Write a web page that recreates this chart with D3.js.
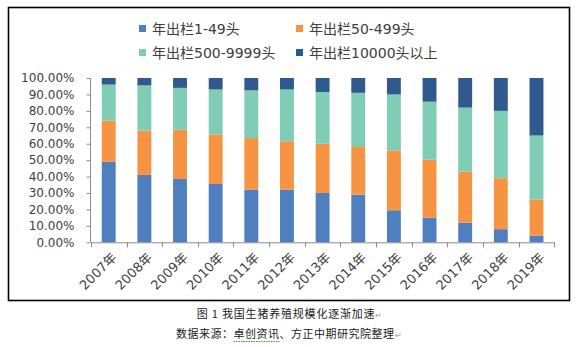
<!DOCTYPE html>
<meta charset="utf-8">
<script src="https://d3js.org/d3.v7.min.js"></script>
<style>
  body { margin: 0; background: #fff; }
</style>
<div id="chart"></div>
<script>
    // categories and values (share of each farm size, %)
    var years = ["2007年", "2008年", "2009年", "2010年", "2011年", "2012年", "2013年",
                 "2014年", "2015年", "2016年", "2017年", "2018年", "2019年"];
    var seriesNames = ["年出栏1-49头", "年出栏50-499头", "年出栏500-9999头", "年出栏10000头以上"];
    var small  = [49, 41, 38.5, 35.5, 32, 32, 30, 29, 19.5, 15, 12, 8, 4];
    var medium = [25, 27, 30, 30.2, 31.5, 29.5, 30, 29, 36.5, 35.3, 31, 31, 22];
    var large  = [22, 27.5, 25.5, 27.3, 29, 31.5, 31.5, 33, 34, 35.3, 39, 41, 39];
    var huge   = [4, 4.5, 6, 7, 7.5, 7, 8.5, 9, 10, 14.4, 18, 20, 35];
    var yTicks = [0, 0.1, 0.2, 0.3, 0.4, 0.5, 0.6, 0.7, 0.8, 0.9, 1];
    var colors = ["#4F7FBE", "#F79443", "#7ECDB4", "#30598D"];

    var W = 576, H = 347;
    var svg = d3.select("#chart").append("svg")
        .attr("width", W).attr("height", H);

    // outer frame
    svg.append("rect")
        .attr("x", 8.5).attr("y", 7.5)
        .attr("width", 561).attr("height", 293)
        .attr("fill", "none").attr("stroke", "#000").attr("stroke-width", 1.6);

    // build table for stacking
    var keys = ["small", "medium", "large", "huge"];
    var table = years.map(function(y, i) {
        return { year: y, small: small[i] / 100, medium: medium[i] / 100,
                 large: large[i] / 100, huge: huge[i] / 100 };
    });
    var stacked = d3.stack().keys(keys)(table);

    var x = d3.scaleBand()
        .domain(years)
        .range([90.9, 554.3])
        .paddingInner(0.61)
        .paddingOuter(0.305);
    var y = d3.scaleLinear().domain([0, 1]).range([242.3, 78]);

    var axisColor = "#8c8c8c";
    var numFont = "'DejaVu Sans', 'Noto Sans CJK SC', sans-serif";

    // bars
    svg.append("g").selectAll("g")
      .data(stacked)
      .enter().append("g")
        .attr("fill", function(d, i) { return colors[i]; })
      .selectAll("rect")
      .data(function(d) { return d; })
      .enter().append("rect")
        .attr("x", function(d) { return x(d.data.year); })
        .attr("width", x.bandwidth())
        .attr("y", function(d) { return y(d[1]); })
        .attr("height", function(d) { return y(d[0]) - y(d[1]); });

    // y axis
    var yAxis = svg.append("g")
        .attr("transform", "translate(90.5,0)")
        .call(d3.axisLeft(y).tickValues(yTicks).tickSize(4).tickPadding(12)
              .tickFormat(d3.format(".2%")));
    yAxis.select(".domain").attr("stroke", axisColor).attr("d", "M0," + y(1) + "V" + y(0));
    yAxis.selectAll(".tick line").attr("stroke", axisColor);
    yAxis.selectAll(".tick text")
        .style("font-family", numFont).style("font-size", "12px").attr("fill", "#404040");

    // x axis line and boundary ticks
    var x0 = x.range()[0], x1 = x.range()[1], step = x.step();
    var xg = svg.append("g");
    xg.append("line")
        .attr("x1", x0).attr("x2", x1).attr("y1", y(0) + 0.5).attr("y2", y(0) + 0.5)
        .attr("stroke", axisColor);
    xg.selectAll(".xt")
      .data(d3.range(years.length + 1))
      .enter().append("line")
        .attr("x1", function(i) { return Math.round(x0 + i * step) + 0.5; })
        .attr("x2", function(i) { return Math.round(x0 + i * step) + 0.5; })
        .attr("y1", y(0)).attr("y2", y(0) + 5)
        .attr("stroke", axisColor);

    // rotated category labels
    xg.selectAll(".xl")
      .data(years)
      .enter().append("text")
        .attr("transform", function(d) {
            return "translate(" + (x(d) + x.bandwidth() / 2 + 2) + "," + (y(0) + 9) + ") rotate(-45)";
        })
        .attr("text-anchor", "end")
        .attr("dy", "0.75em")
        .style("font-family", numFont).style("font-size", "13px")
        .attr("fill", "#404040")
        .text(function(d) { return d; });

    // legend
    var legendPos = [[139, 28.5], [296, 28.5], [139, 52.5], [296, 52.5]];
    var legend = svg.append("g").selectAll("g")
      .data(seriesNames)
      .enter().append("g")
        .attr("transform", function(d, i) { return "translate(" + legendPos[i][0] + "," + legendPos[i][1] + ")"; });
    legend.append("rect")
        .attr("x", 0).attr("y", -3.5).attr("width", 7).attr("height", 7)
        .attr("fill", function(d, i) { return colors[i]; });
    legend.append("text")
        .attr("x", 13).attr("y", 0).attr("dy", "0.36em")
        .style("font-family", numFont).style("font-size", "14px")
        .attr("fill", "#404040")
        .text(function(d) { return d; });

    // caption below the frame
    var capFont = "'Noto Sans CJK SC', sans-serif";
    var cap1 = svg.append("text")
        .attr("x", 290).attr("y", 318).attr("text-anchor", "middle")
        .style("font-family", capFont).style("font-size", "11px")
        .style("letter-spacing", "0.8px").attr("fill", "#222");
    cap1.append("tspan").text("图 1 我国生猪养殖规模化逐渐加速");
    cap1.append("tspan").attr("fill", "#999").style("font-size", "8px").text("↵");

    var cap2 = svg.append("text")
        .attr("x", 289).attr("y", 338).attr("text-anchor", "middle")
        .style("font-family", capFont).style("font-size", "11px")
        .style("letter-spacing", "0.5px").attr("fill", "#222");
    cap2.append("tspan").text("数据来源：卓创资讯、方正中期研究院整理");
    cap2.append("tspan").attr("fill", "#999").style("font-size", "8px").text("↵");

    // green spell-check underline under 卓创资讯
    var n = cap2.node();
    var ux0 = n.getStartPositionOfChar(5).x, ux1 = n.getEndPositionOfChar(8).x;
    svg.append("line")
        .attr("x1", ux0).attr("x2", ux1).attr("y1", 341.5).attr("y2", 341.5)
        .attr("stroke", "#3a9a3a").attr("stroke-width", 1).attr("stroke-dasharray", "1.5,1");
</script>
